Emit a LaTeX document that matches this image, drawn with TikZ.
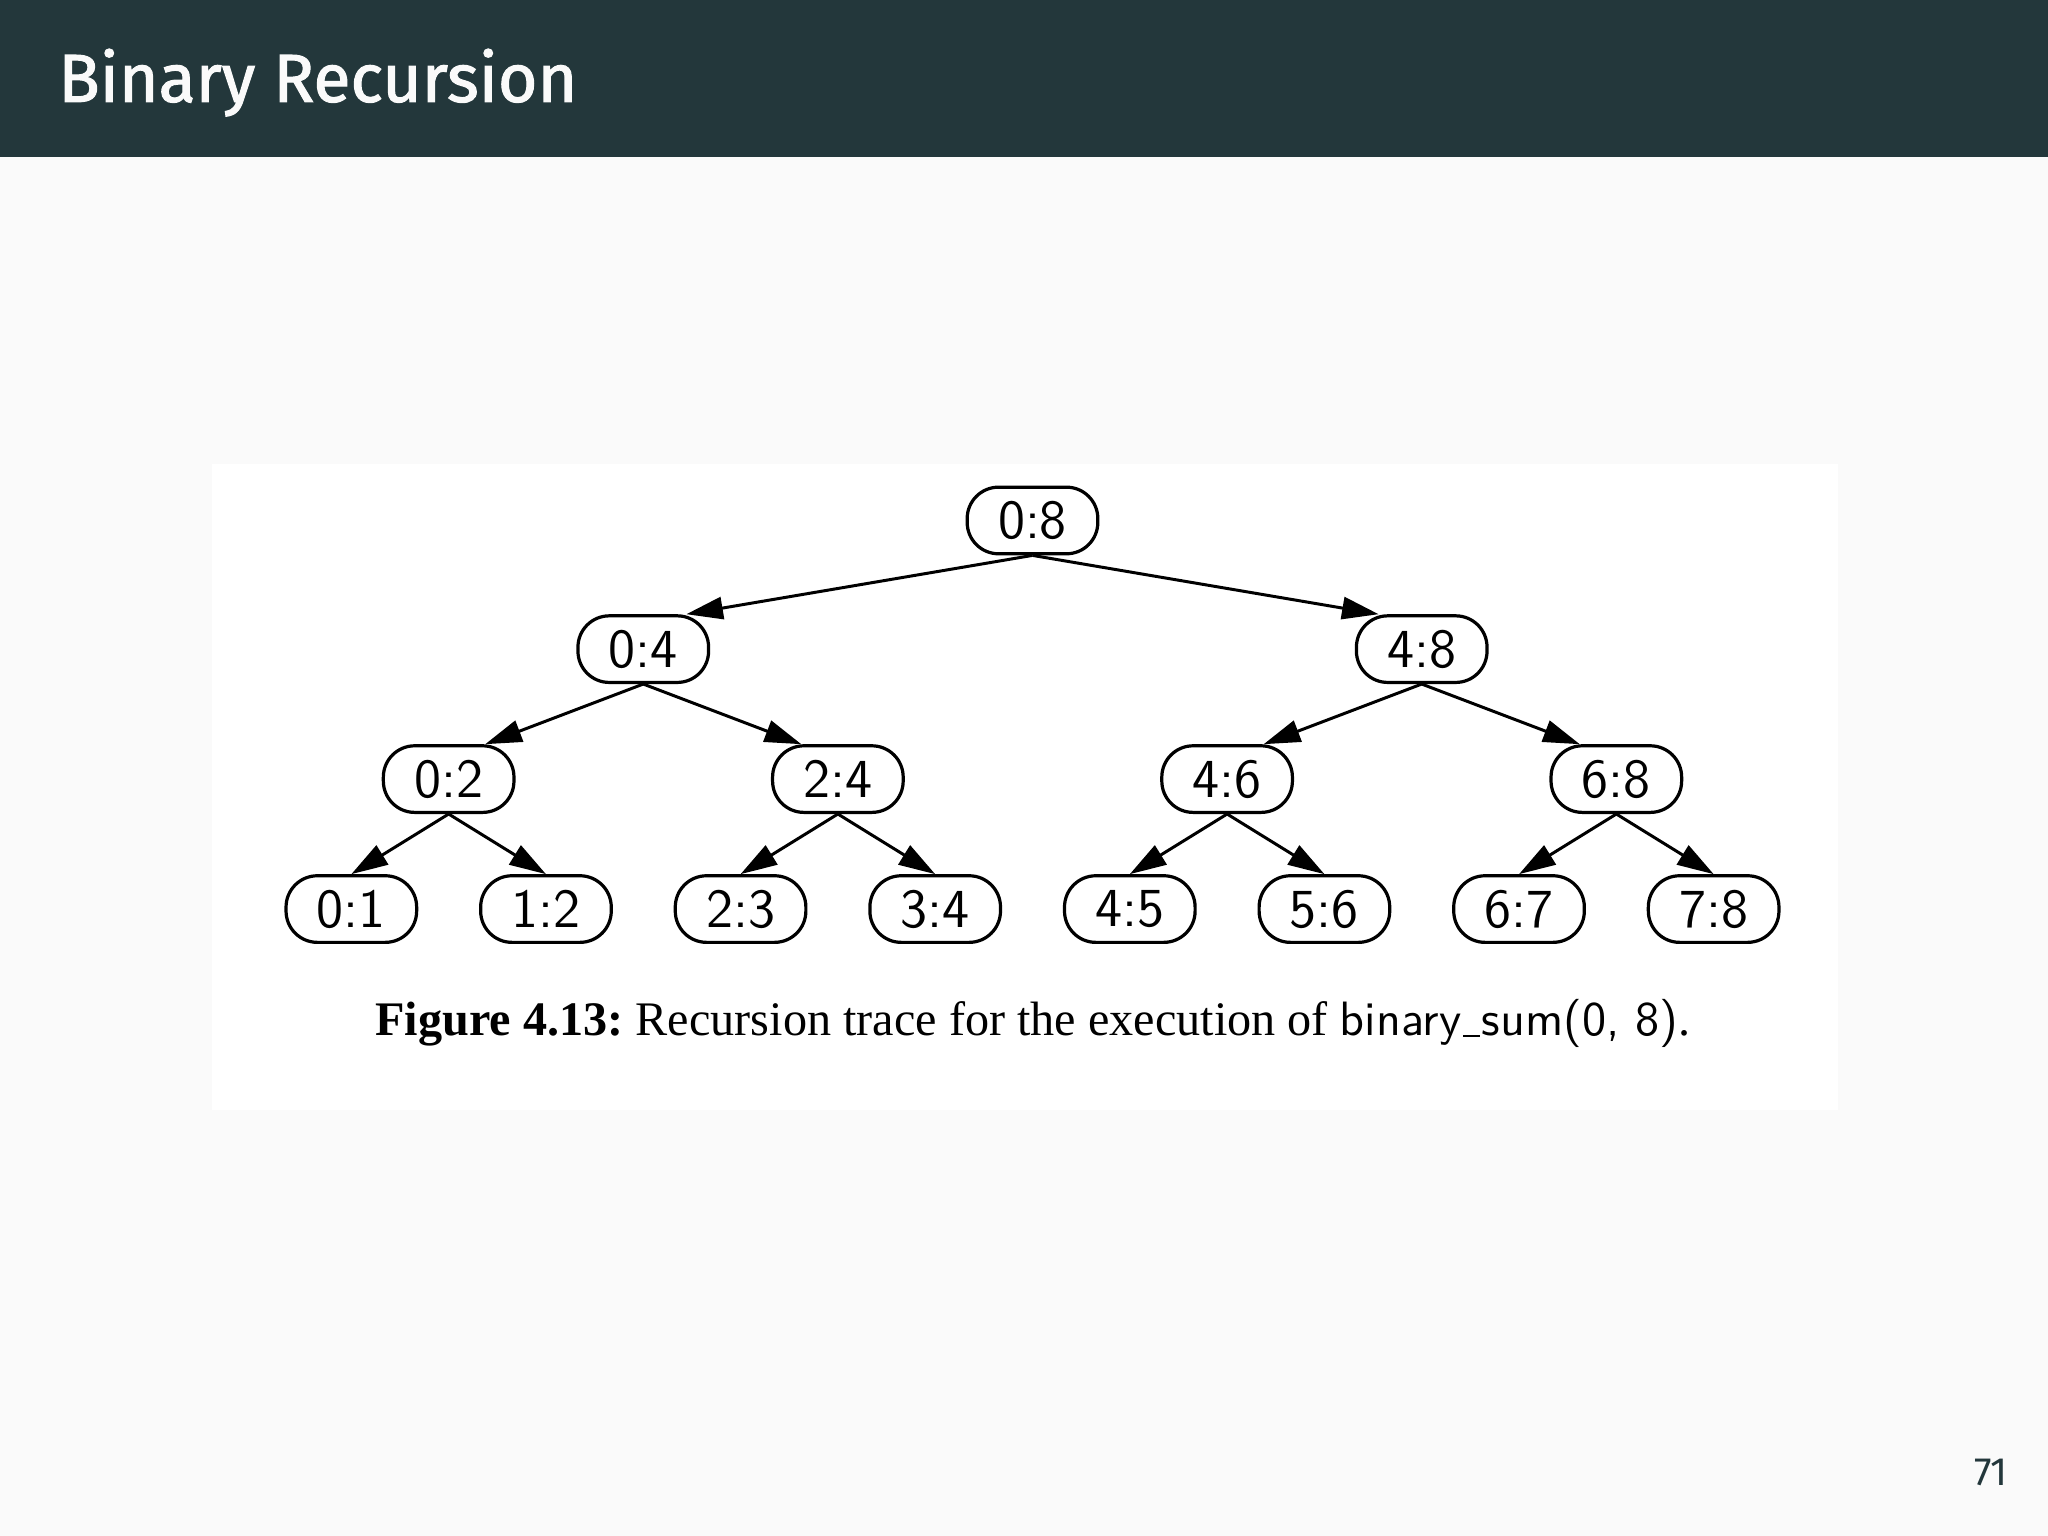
\documentclass[tikz,border=0pt]{standalone}
\usepackage{fontspec}
\setmainfont{Liberation Serif}
\newfontfamily\firafont{Fira Sans}
\newfontfamily\firatitle[FakeBold=1.6]{Fira Sans}
\usetikzlibrary{arrows.meta}
\definecolor{barcol}{HTML}{23373B}
\definecolor{slidebg}{HTML}{FAFAFA}

\begin{document}
\begin{tikzpicture}[
  call/.style={draw, line width=0.7pt, rounded corners=2.4mm, minimum width=1cm,
    minimum height=0.51cm, inner sep=0pt, font=\sffamily\fontsize{12}{14}\selectfont},
  link/.style={line width=0.65pt, -{Triangle[length=2.8mm,width=1.7mm]}}
]
% slide background and title bar
\fill[slidebg] (0,0) rectangle (15.68,-11.76);
\useasboundingbox (0,0) rectangle (15.68,-11.76);
\fill[barcol] (0,0) rectangle (15.68,-1.2);
\node[anchor=base west, inner sep=0pt, text=slidebg,
  font=\firatitle\fontsize{14.8}{18}\selectfont] (T) at (0.44,-0.78) {Binary Recursion};
\node[anchor=base east, inner sep=0pt, text=barcol,
  font=\firafont\fontsize{8.6}{10}\selectfont] (P) at (15.38,-11.37) {71};

% figure area
\fill[white] (1.62,-3.55) rectangle (14.07,-8.5);

% recursion trace
\node[call] (N08) at (7.905,-3.985) {0:8};

\node[call] (N04) at (4.925,-4.97) {0:4};
\node[call] (N48) at (10.885,-4.97) {4:8};

\node[call] (N02) at (3.435,-5.965) {0:2};
\node[call] (N24) at (6.415,-5.965) {2:4};
\node[call] (N46) at (9.395,-5.965) {4:6};
\node[call] (N68) at (12.375,-5.965) {6:8};

\node[call] (N01) at (2.69,-6.96) {0:1};
\node[call] (N12) at (4.18,-6.96) {1:2};
\node[call] (N23) at (5.67,-6.96) {2:3};
\node[call] (N34) at (7.16,-6.96) {3:4};
\node[call] (N45) at (8.65,-6.96) {4:5};
\node[call] (N56) at (10.14,-6.96) {5:6};
\node[call] (N67) at (11.63,-6.96) {6:7};
\node[call] (N78) at (13.12,-6.96) {7:8};

\draw[link] (N08.south) -- ([xshift=3.3mm]N04.north);
\draw[link] (N08.south) -- ([xshift=-3.3mm]N48.north);

\draw[link] (N04.south) -- ([xshift=2.8mm]N02.north);
\draw[link] (N04.south) -- ([xshift=-2.8mm]N24.north);
\draw[link] (N48.south) -- ([xshift=2.8mm]N46.north);
\draw[link] (N48.south) -- ([xshift=-2.8mm]N68.north);

\draw[link] (N02.south) -- (N01.north);
\draw[link] (N02.south) -- (N12.north);
\draw[link] (N24.south) -- (N23.north);
\draw[link] (N24.south) -- (N34.north);
\draw[link] (N46.south) -- (N45.north);
\draw[link] (N46.south) -- (N56.north);
\draw[link] (N68.south) -- (N67.north);
\draw[link] (N68.south) -- (N78.north);

% caption
\node[anchor=base, inner sep=0pt, font=\fontsize{10.5}{12}\selectfont] (C) at (7.91,-7.93)
  {\textbf{Figure 4.13:}\hspace{-0.08em} Recursion trace for the execution of
   {\sffamily binary\kern0.03em\rule[-0.02em]{0.36em}{0.35pt}\kern0.03em sum(0, 8)}.};
\end{tikzpicture}
\end{document}
